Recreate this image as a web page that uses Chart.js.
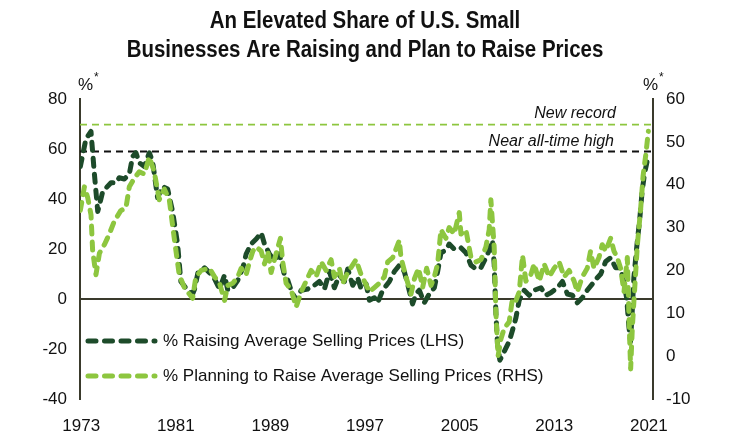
<!DOCTYPE html>
<html>
<head>
<meta charset="utf-8">
<script src="https://cdn.jsdelivr.net/npm/chart.js@4/dist/chart.umd.min.js"></script>
<style>
html,body{margin:0;padding:0;background:#ffffff;}
#wrap{width:730px;height:447px;position:relative;}
</style>
</head>
<body>
<div id="wrap"><canvas id="c" width="730" height="447"></canvas></div>
<script>
// ---- data ----
const raisingDates = [1972.93,1973.4,1973.83,1974.1,1974.4,1974.67,1974.82,1975.52,1975.94,1976.22,1976.65,1977.07,1977.35,1977.63,1977.91,1978.34,1978.76,1979.04,1979.46,1979.88,1980.31,1980.73,1981.15,1981.43,1981.99,1982.42,1982.59,1982.87,1983.43,1983.85,1984.28,1984.7,1985.12,1985.4,1985.82,1986.24,1986.67,1986.95,1987.37,1987.8,1988.22,1988.5,1988.92,1989.34,1989.77,1990.19,1990.47,1990.75,1991.18,1991.6,1992.16,1992.72,1993.14,1993.57,1993.99,1994.41,1994.83,1995.26,1995.54,1995.96,1996.38,1996.67,1997.09,1997.37,1997.79,1998.07,1998.49,1999.06,1999.48,1999.9,2000.32,2000.6,2001.02,2001.31,2001.59,2002.01,2002.43,2002.86,2003.14,2003.42,2003.84,2004.12,2004.54,2005.11,2005.53,2005.96,2006.38,2006.8,2007.22,2007.5,2007.78,2007.92,2008.07,2008.2,2008.4,2008.77,2009.19,2009.47,2009.76,2010.04,2010.46,2010.88,2011.3,2011.87,2012.29,2012.71,2013.27,2013.69,2014.11,2014.53,2014.95,2015.37,2015.79,2016.22,2016.64,2016.93,2017.35,2017.77,2018.19,2018.61,2018.9,2019.12,2019.31,2019.45,2019.59,2019.73,2020.0,2020.24,2020.43,2020.63,2020.85];
const raisingValues = [53,64,67,51,35,40,43,46.5,46.5,48.5,48,50,57,58.5,54.5,53,58.5,55,40.5,45,44,35,22,7,3.5,2,4,10.5,12.5,10.5,8,4,9.5,3.5,4.5,7.5,12.5,18,22,24,26.5,22,18,15.5,18,9.5,7.5,3.5,-0.5,3.5,4,5.5,7,4,11,4.5,9.5,7,12,5.5,8.5,4,6,-0.5,0.5,-1.5,3.5,7,11,13.5,11,6,-2,2,3.5,-1.5,2,4.5,11,18.5,19.5,22,20,20.5,18.5,13.5,12,12.5,16.5,19.5,23.5,14,-6,-18,-24.5,-21,-17,-12.5,-7.5,-0.5,3.5,1.5,3.5,4.5,1.5,2.5,4.5,7,2,1.5,-1.5,0.5,3.5,6,8.5,10,15,16.5,12.5,12.5,6,0.5,-11,-17,-5,8.5,22,32.5,43,50,55];

const planningDates = [1972.93,1973.27,1973.55,1973.83,1973.97,1974.25,1974.54,1974.96,1975.38,1975.8,1976.36,1976.78,1977.07,1977.49,1977.91,1978.34,1978.76,1979.18,1979.6,1980.03,1980.45,1980.87,1981.29,1981.72,1982.42,1982.7,1983.15,1983.85,1984.28,1984.7,1985.12,1985.4,1985.82,1986.24,1986.53,1986.95,1987.23,1987.51,1987.8,1988.22,1988.5,1988.78,1989.06,1989.49,1989.85,1990.04,1990.33,1990.75,1991.18,1991.6,1992.02,1992.44,1992.86,1993.29,1993.71,1994.13,1994.41,1994.83,1995.11,1995.54,1996.24,1996.67,1996.94,1997.37,1997.79,1998.21,1998.63,1998.92,1999.34,1999.9,2000.04,2000.46,2000.89,2001.17,2001.53,2001.87,2002.21,2002.58,2002.86,2003.14,2003.42,2003.84,2004.12,2004.54,2004.97,2005.11,2005.53,2005.96,2006.38,2006.8,2007.22,2007.5,2007.64,2007.92,2008.07,2008.25,2008.49,2008.77,2009.19,2009.47,2009.76,2010.04,2010.32,2010.6,2011.02,2011.3,2011.73,2012.15,2012.57,2012.99,2013.41,2013.84,2014.26,2014.68,2014.95,2015.37,2015.79,2016.07,2016.36,2016.78,2017.06,2017.35,2017.77,2018.05,2018.33,2018.61,2018.9,2019.18,2019.32,2019.46,2019.6,2019.75,2020.03,2020.31,2020.51,2020.74,2020.96];
const planningValues = [34,39.5,37,33,24.5,19,24,26,28.5,31.5,34,34.5,39.5,41.5,43,42.5,46.5,43,36.5,39,36.5,27.5,19,16,13.5,18.5,20,20.5,18.5,17,13,16.5,17,18.5,20.5,19,22,24.5,25.5,24.5,21.5,24.5,19.5,24,27.5,22,17,15.5,11.5,15,17.5,20,18.5,22,20,22.5,18.5,20.5,17,19.5,22.5,19,17.5,15,16,17,18.5,22,23,27,23,18.5,14.5,18,20.5,16,20.5,16.5,18.5,21.5,29.5,27.5,30,28.5,33.5,28.5,29.5,23,22,22.5,25.5,29.5,36.5,25.5,10,0,4,6.5,8,13.5,13,15,23.5,17.5,19,21.5,17.5,21.5,18.5,20.5,22,18.5,20,17.5,15,18.5,20.5,24.5,20.5,23,26,24.5,27.5,24.5,23,20.5,15,23,9,-3,6.5,13.5,26,34.5,42,47,52.5];

const yearTicks = [1973,1981,1989,1997,2005,2013,2021];
const leftTicks = [-40,-20,0,20,40,60,80];
const rightTicks = [-10,0,10,20,30,40,50,60];
const nearHighLHS = 59;
const newRecordRHS = 54;

const titleLines = ['An Elevated Share of U.S. Small','Businesses Are Raising and Plan to Raise Prices'];
const legendLabels = ['% Raising Average Selling Prices (LHS)','% Planning to Raise Average Selling Prices (RHS)'];
const annotNew = 'New record';
const annotNear = 'Near all-time high';
const unitLabel = '%';

// ---- styles ----
const DARK = '#1d4b2a';
const LIGHT = '#8dc63f';
const AXIS = '#3a3a2c';
const TEXT = '#111111';
const FONT = "'Liberation Sans', Arial, Helvetica, sans-serif";
const xMin = 1972.9, xMax = 2021.35;

function pts(xs, ys){ return xs.map((x,i)=>({x:x, y:ys[i]})); }

Chart.defaults.font.family = FONT;
Chart.defaults.color = TEXT;

const decor = {
  id:'decor',
  afterDraw(chart){
    const c = chart.ctx;
    c.save();
    c.fillStyle = TEXT;
    c.textBaseline = 'middle';
    // title (slightly condensed)
    c.save();
    c.textAlign = 'center';
    c.font = "bold 23px " + FONT;
    c.translate(365, 0);
    c.scale(0.89, 1);
    c.fillText(titleLines[0], 0, 22);
    c.fillText(titleLines[1], 0, 51);
    c.restore();
    // unit labels
    c.textAlign = 'left';
    c.font = "17px " + FONT;
    c.fillText(unitLabel, 78, 85);
    let w = c.measureText(unitLabel).width;
    c.fillText(unitLabel, 643, 85);
    c.font = "12px " + FONT;
    c.fillText('*', 78 + w + 1, 78);
    c.fillText('*', 643 + w + 1, 78);
    // annotations
    c.textAlign = 'right';
    c.font = "italic 16px " + FONT;
    const yr = chart.scales.yR, yl = chart.scales.yL;
    c.fillText(annotNew, 616, yr.getPixelForValue(newRecordRHS) - 11);
    c.fillText(annotNear, 614, yl.getPixelForValue(nearHighLHS) - 10);
    // legend
    const rows = [{y:341, col:DARK},{y:376, col:LIGHT}];
    rows.forEach((r,i)=>{
      c.save();
      c.strokeStyle = r.col;
      c.lineWidth = 5;
      c.lineCap = 'round';
      c.setLineDash([8,8.5]);
      c.beginPath();
      c.moveTo(88, r.y); c.lineTo(155, r.y);
      c.stroke();
      c.restore();
      c.textAlign = 'left';
      c.font = "17px " + FONT;
      c.fillStyle = TEXT;
      c.fillText(legendLabels[i], 163, r.y);
    });
    c.restore();
  }
};

new Chart(document.getElementById('c'), {
  type:'line',
  data:{
    datasets:[
      {label:legendLabels[1], data:pts(planningDates, planningValues), yAxisID:'yR', borderColor:LIGHT, borderWidth:5, borderDash:[8,8], borderCapStyle:'round', borderJoinStyle:'round', pointRadius:0, tension:0, order:0},
      {label:legendLabels[0], data:pts(raisingDates, raisingValues), yAxisID:'yL', borderColor:DARK, borderWidth:5, borderDash:[8,8], borderCapStyle:'round', borderJoinStyle:'round', pointRadius:0, tension:0, order:1},
      {label:annotNear, data:[{x:xMin,y:nearHighLHS},{x:xMax,y:nearHighLHS}], yAxisID:'yL', borderColor:'#111', borderWidth:1.8, borderDash:[7,5], pointRadius:0, order:2},
      {label:annotNew, data:[{x:xMin,y:newRecordRHS},{x:xMax,y:newRecordRHS}], yAxisID:'yR', borderColor:LIGHT, borderWidth:1.8, borderDash:[7,5], pointRadius:0, order:3}
    ]
  },
  options:{
    responsive:false,
    animation:false,
    devicePixelRatio:1,
    layout:{padding:{top:99,left:0,right:0,bottom:0}},
    plugins:{legend:{display:false}, tooltip:{enabled:false}, title:{display:false}},
    scales:{
      x:{
        type:'linear', min:xMin, max:xMax,
        afterBuildTicks:s=>{ s.ticks = yearTicks.map(v=>({value:v})); },
        afterFit:s=>{ s.height = 48; },
        grid:{display:false, drawTicks:false},
        border:{display:false},
        ticks:{autoSkip:false, maxRotation:0, padding:17, color:TEXT, font:{size:17}, callback:v=>String(v)}
      },
      yL:{
        type:'linear', position:'left', min:-40, max:80,
        afterBuildTicks:s=>{ s.ticks = leftTicks.map(v=>({value:v})); },
        afterFit:s=>{ s.width = 80; },
        grid:{drawTicks:false, lineWidth:2, color:ctx=> (ctx.tick && ctx.tick.value===0) ? AXIS : 'rgba(0,0,0,0)'},
        border:{display:true, color:AXIS, width:2},
        ticks:{padding:13, color:TEXT, font:{size:17}, callback:v=>String(v)}
      },
      yR:{
        type:'linear', position:'right', min:-10, max:60,
        afterBuildTicks:s=>{ s.ticks = rightTicks.map(v=>({value:v})); },
        afterFit:s=>{ s.width = 77; },
        grid:{display:false, drawTicks:false},
        border:{display:true, color:AXIS, width:2},
        ticks:{padding:13, color:TEXT, font:{size:17}, callback:v=>String(v)}
      }
    }
  },
  plugins:[decor]
});
</script>
</body>
</html>
